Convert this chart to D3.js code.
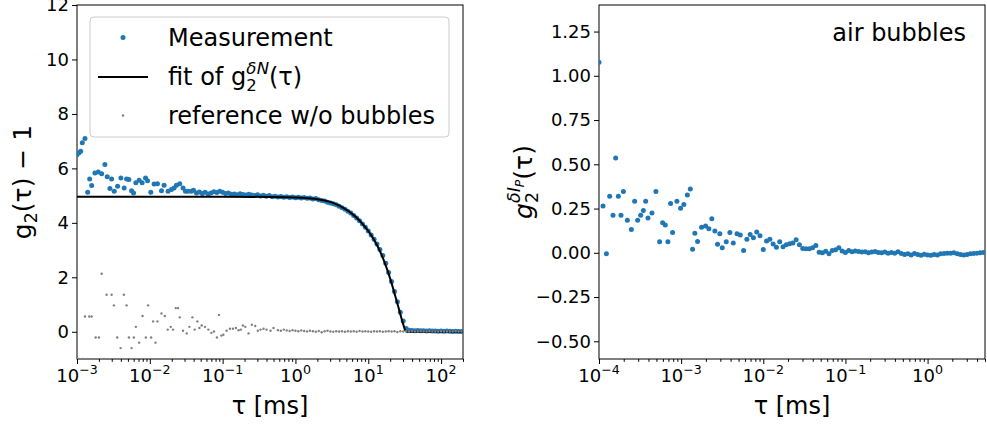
<!DOCTYPE html>
<html><head><meta charset="utf-8">
<script src="https://cdn.jsdelivr.net/npm/d3@7"></script>
<style>body{margin:0;background:#fff} svg text{font-family:"DejaVu Sans",sans-serif;fill:#000}</style>
</head><body><svg id="c" width="987" height="425"></svg>
<script>
// ---------- data ----------
// left panel: measurement (blue)
const measTau = [0.001,0.001065,0.001124,0.001182,0.001287,0.001401,0.001493,0.00159,0.001764,0.001958,
0.00218,0.002418,0.002601,0.002832,0.002988,0.003243,0.003609,0.004005,0.004446,0.004795,
0.005157,0.005615,0.00598,0.00643,0.007135,0.007846,0.008733,0.0093,0.01032,0.01145,
0.01274,0.01446,0.0157,0.01781,0.01983,0.02153,0.02322,0.02576,0.02858,0.03083,0.03346,0.03726,
0.0398,0.0437,0.0479,0.0525,0.0575,0.0631,0.0692,0.0759,0.0832,0.0912,
0.1,0.1096,0.1202,0.1318,0.1445,0.1585,0.1738,0.1905,0.2089,0.2291,
0.2512,0.2754,0.302,0.3311,0.3631,0.3981,0.4365,0.4786,0.5248,0.5754,
0.631,0.6918,0.7586,0.8318,0.912,1.0,1.096,1.202,1.318,1.445,
1.585,1.738,1.905,2.089,2.291,2.512,2.754,3.02,3.311,3.631,
3.981,4.365,4.786,5.248,5.754,6.31,6.918,7.586,8.318,9.12,
10.0,10.96,12.02,13.18,14.45,15.85,17.38,19.05,20.89,22.91,
25.12,27.54,30.2,33.11,36.31,39.81,43.65,47.86,52.48,57.54,
63.1,69.18,75.86,83.18,91.2,100,109.6,120.2,131.8,144.5,158.5,173.8,190.5];
const measVal = [6.5,6.57,6.63,6.94,7.1,5.12,5.61,5.37,5.83,5.87,
5.8,6.14,5.69,5.26,5.61,5.16,5.34,5.65,5.28,5.61,
5.59,5.18,5.1,5.47,5.56,5.47,5.65,5.55,5.12,5.43,
5.44,5.18,5.38,5.16,5.22,5.28,5.38,5.44,5.28,5.16,5.16,5.16,
5.20,5.10,5.13,5.08,5.12,5.06,5.10,5.14,5.11,5.16,
5.12,5.08,5.10,5.05,5.06,5.03,5.07,5.04,5.02,5.05,
5.02,5.00,5.03,4.99,5.01,4.98,5.00,4.96,4.98,4.95,
4.97,4.94,4.96,4.93,4.95,4.92,4.94,4.91,4.93,4.90,
4.91,4.88,4.89,4.85,4.82,4.80,4.76,4.73,4.70,4.66,
4.61,4.55,4.50,4.43,4.36,4.27,4.18,4.08,3.96,3.84,
3.70,3.55,3.40,3.22,3.02,2.80,2.52,2.18,1.85,1.48,
1.10,0.72,0.40,0.12,0.06,0.05,0.04,0.05,0.04,0.04,
0.03,0.04,0.03,0.03,0.02,0.03,0.02,0.03,0.02,0.01,0.02,0.01,0.01];

// left panel: fit of g2^dN (black line)
const fitTau = [0.001,0.1,0.5,1,1.5,2,3,4,5,6,7,8,10,12,15,18,20,22,25,28,30,32,33.5,50,100,200];
const fitVal = [4.96,4.96,4.95,4.93,4.9,4.87,4.77,4.63,4.48,4.33,4.18,4.02,3.7,3.38,2.87,2.32,1.95,1.58,1.06,0.58,0.3,0.07,0,0,0,0];

// left panel: reference w/o bubbles (grey)
const refTau = [0.001,0.00106,0.00113,0.0012,0.001287,0.001474,0.00159,0.001804,0.002002,0.00218,
0.00234,0.002551,0.002988,0.003212,0.003564,0.003968,0.004403,0.004795,0.005157,0.005615,
0.006036,0.00643,0.007135,0.007943,0.008815,0.009478,0.01042,0.0111,0.01197,0.01274,
0.01446,0.01605,0.01764,0.0194,0.02085,0.02271,0.02441,0.02576,0.02858,0.03212,
0.03499,0.03845,0.04133,0.045,0.04795,0.05157,0.05722,0.06369,0.07002,0.07601,
0.08353,0.08898,0.09598,0.1022,0.1134,0.1259,0.1384,0.1521,0.1657,0.1781,
0.1897,0.2047,0.2271,0.252,0.2805,0.3045,0.3315,0.3644,0.4006,0.4545,0.4995,
0.5754,0.631,0.6918,0.7586,0.8318,0.912,1.0,1.096,1.202,1.318,
1.445,1.585,1.738,1.905,2.089,2.291,2.512,2.754,3.02,3.311,
3.631,3.981,4.365,4.786,5.248,5.754,6.31,6.918,7.586,8.318,
9.12,10.0,10.96,12.02,13.18,14.45,15.85,17.38,19.05,20.89,
22.91,25.12,27.54,30.2,33.11,36.31,39.81,43.65,47.86,52.48,
57.54,63.1,69.18,75.86,83.18,91.2,100,109.6,120.2,131.8,144.5,158.5,173.8,190.5];
const refVal = [-1.0,-1.0,-1.02,-1.0,0.56,0.56,0.56,-0.21,-0.21,2.13,
-1.0,1.36,1.36,0.97,-0.21,-0.6,1.36,0.97,-0.21,-0.6,
-0.21,0.18,-0.4,0.58,-0.21,0.97,-0.21,0.38,-0.4,0.38,
0.67,0.58,0.08,0.18,0.08,0.87,0.87,0.53,0.04,-0.06,
0.18,0.53,0.08,0.38,0.14,0.23,0.18,0.08,-0.04,0.01,
-0.21,0.62,-0.14,-0.11,0.04,0.11,0.11,0.14,0.06,0.08,
0.23,0.18,-0.06,0.26,0.21,0.04,0.08,0.11,0.08,0.04,0.14,
0.06,0.04,0.08,0.05,0.03,0.06,0.04,0.02,0.05,0.03,
0.01,0.04,0.02,0.0,0.03,-0.02,0.02,0.04,0.01,0.0,
0.02,0.01,0.02,0.0,0.02,0.01,0.02,0.0,0.03,0.01,
0.02,0.01,0.0,0.02,0.01,0.02,0.0,0.01,0.02,0.01,
0.02,-0.01,0.02,0.01,0.02,0.01,0.02,0.01,0.01,0.02,
0.01,0.01,0.02,0.01,0.01,0.01,0.02,0.01,0.01,0.01,0.01,0.02,0.01,0.01];

// right panel: air bubbles g2^dIP (blue)
const bubTau = [0.0001,0.0001119,0.000123,0.0001349,0.000148,0.0001595,0.0001721,0.0001851,0.0001981,0.0002215,
0.0002477,0.0002716,0.0002955,0.0003216,0.0003467,0.0003699,0.0003947,0.000441,0.000493,0.000547,
0.000595,0.000641,0.00069,0.000744,0.000787,0.000888,0.000984,0.001079,0.001189,0.001292,
0.001377,0.001469,0.001585,0.001774,0.001983,0.002175,0.002364,0.002573,0.002773,0.002958,
0.003163,0.00354,0.00392,0.00431,
0.004786,0.005248,0.005754,0.00631,0.006918,0.007586,0.008318,0.00912,0.01,0.01096,
0.01202,0.01318,0.01445,0.01585,0.01738,0.01905,0.02089,0.02291,0.02512,0.02754,
0.0302,0.03311,0.03631,0.03981,0.04365,0.04786,0.05248,0.05754,0.0631,0.06918,
0.07586,0.08318,0.0912,0.1,0.1096,0.1202,0.1318,0.1445,0.1585,0.1738,
0.1905,0.2089,0.2291,0.2512,0.2754,0.302,0.3311,0.3631,0.3981,0.4365,
0.4786,0.5248,0.5754,0.631,0.6918,0.7586,0.8318,0.912,1.0,1.096,
1.202,1.318,1.445,1.585,1.738,1.905,2.089,2.291,2.512,2.754,
3.02,3.311,3.631,3.981,4.365,4.786];
const bubVal = [1.077,0.265,-0.006,0.32,0.212,0.536,0.32,0.212,0.347,0.184,
0.131,0.291,0.184,0.212,0.239,0.291,0.197,0.225,0.347,0.063,
0.17,0.157,0.063,0.278,0.115,0.291,0.252,0.273,0.326,0.36,
0.02,0.11,0.064,0.145,0.151,0.136,0.193,0.123,0.049,0.108,
0.028,0.063,0.115,0.055,
0.108,0.10,0.013,0.077,0.104,0.085,0.117,0.097,0.019,0.066,
0.076,0.05,0.032,0.063,0.034,0.045,0.051,0.055,0.074,0.045,
0.025,0.023,0.023,0.028,0.041,0.003,0.0,0.009,-0.006,0.013,
0.017,0.028,0.01,0.002,0.013,0.006,0.01,0.008,0.004,0.006,
0.0,0.005,0.008,0.002,0.0,0.004,-0.003,0.002,-0.002,0.006,
-0.004,-0.01,-0.006,-0.012,-0.004,-0.01,-0.014,-0.008,-0.012,-0.014,
-0.01,-0.012,-0.006,-0.004,-0.002,-0.003,0.0,-0.005,-0.01,-0.012,
-0.01,-0.006,-0.004,-0.002,0.0,0.002];

// ticks and texts
const leftYTicks = [0,2,4,6,8,10,12];
const rightYTicks = [-0.5,-0.25,0,0.25,0.5,0.75,1.0,1.25];
const leftXExp = [-3,-2,-1,0,1,2];
const rightXExp = [-4,-3,-2,-1,0];
const legendNames = ["Measurement","fit of ","reference w/o bubbles"];
const annotationText = "air bubbles";
const xLabelText = "τ [ms]";

// ---------- drawing ----------
const svg = d3.select("#c");
const BLUE = "#1f77b4", GREY = "#808080";
const TOP = 5, BOT = 359;
const L = {x0:77, x1:463};
const R = {x0:599, x1:985};
const TICKFS = 18;

const xL = d3.scaleLog().domain([1e-3, 200]).range([L.x0, L.x1]);
const yL = d3.scaleLinear().domain([-1, 12]).range([BOT, TOP]);
const xR = d3.scaleLog().domain([1e-4, 5]).range([R.x0, R.x1]);
const yR = d3.scaleLinear().domain([-0.6, 1.4]).range([BOT, TOP]);

function richText(parent, x, y, items, anchor, rotate) {
  const g = parent.append("g");
  const inner = g.append("g");
  let cx = 0, gs = 0, ge = 0;
  items.forEach(it => {
    const start = it.stack ? gs : cx;
    const t = inner.append("text").attr("x", start).attr("y", it.dy || 0)
      .attr("font-size", it.size).text(it.t);
    if (it.italic) t.attr("font-style", "italic");
    const w = t.node().getComputedTextLength();
    if (!it.stack) { gs = start; ge = start + w; } else { ge = Math.max(ge, start + w); }
    cx = ge;
  });
  const ox = anchor === "middle" ? -cx / 2 : anchor === "end" ? -cx : 0;
  inner.attr("transform", `translate(${ox},0)`);
  g.attr("transform", `translate(${x},${y})` + (rotate ? ` rotate(${rotate})` : ""));
  return g;
}

function minorVals(lo, hi) {
  const out = [];
  for (let k = Math.floor(Math.log10(lo)); k <= Math.ceil(Math.log10(hi)); k++)
    for (let d = 2; d <= 9; d++) { const v = d * Math.pow(10, k); if (v >= lo && v <= hi) out.push(v); }
  return out;
}

function panel(P, xs, ys, id, yTicks, yFmt, xExp) {
  const g = svg.append("g");
  svg.append("clipPath").attr("id", id).append("rect")
    .attr("x", P.x0).attr("y", TOP).attr("width", P.x1 - P.x0).attr("height", BOT - TOP);
  const ax = g.append("g").attr("transform", `translate(0,${BOT})`)
    .call(d3.axisBottom(xs).tickValues(xExp.map(e => Math.pow(10, e))).tickFormat("").tickSizeOuter(0).tickSizeInner(5));
  const axm = g.append("g").attr("transform", `translate(0,${BOT})`)
    .call(d3.axisBottom(xs).tickValues(minorVals(xs.domain()[0], xs.domain()[1])).tickFormat("").tickSizeOuter(0).tickSizeInner(2.8));
  const ay = g.append("g").attr("transform", `translate(${P.x0},0)`)
    .call(d3.axisLeft(ys).tickValues(yTicks).tickFormat("").tickSizeOuter(0).tickSizeInner(5));
  [ax, axm, ay].forEach(a => { a.select(".domain").remove(); a.selectAll("line").attr("stroke", "#000").attr("stroke-width", 1); });
  xExp.forEach(e => {
    richText(g, xs(Math.pow(10, e)), 382, [
      {t: "10", size: TICKFS},
      {t: (e < 0 ? "\u2212" : "") + Math.abs(e), size: 12.6, dy: -8}
    ], "middle");
  });
  yTicks.forEach(v => {
    g.append("text").attr("x", P.x0 - 8).attr("y", ys(v)).attr("dy", "0.35em")
      .attr("text-anchor", "end").attr("font-size", TICKFS).text(yFmt(v));
  });
  g.append("rect").attr("x", P.x0).attr("y", TOP).attr("width", P.x1 - P.x0).attr("height", BOT - TOP)
    .attr("fill", "none").attr("stroke", "#000").attr("stroke-width", 1);
  return g;
}

const gl = panel(L, xL, yL, "clipL", leftYTicks, d => String(d), leftXExp);
const gr = panel(R, xR, yR, "clipR", rightYTicks, d => d3.format(".2f")(d).replace("-", "\u2212"), rightXExp);

// left data
const dl = svg.append("g").attr("clip-path", "url(#clipL)");
dl.selectAll("circle.m").data(measTau).join("circle")
  .attr("cx", (d) => xL(d)).attr("cy", (d, i) => yL(measVal[i])).attr("r", 2.5).attr("fill", BLUE);
dl.append("path").datum(fitTau.map((t, i) => [t, fitVal[i]]))
  .attr("d", d3.line().x(d => xL(d[0])).y(d => yL(d[1])).curve(d3.curveMonotoneX))
  .attr("fill", "none").attr("stroke", "#000").attr("stroke-width", 2);
dl.selectAll("circle.r").data(refTau).join("circle").attr("class", "r")
  .attr("cx", d => xL(d)).attr("cy", (d, i) => yL(refVal[i])).attr("r", 1.2).attr("fill", GREY);

// right data
const dr = svg.append("g").attr("clip-path", "url(#clipR)");
dr.selectAll("circle").data(bubTau).join("circle")
  .attr("cx", d => xR(d)).attr("cy", (d, i) => yR(bubVal[i])).attr("r", 2.5).attr("fill", BLUE);

// legend
const lg = svg.append("g");
lg.append("rect").attr("x", 90).attr("y", 17).attr("width", 359).attr("height", 120).attr("rx", 4)
  .attr("fill", "#fff").attr("fill-opacity", 0.8).attr("stroke", "#cccccc").attr("stroke-width", 1);
lg.append("circle").attr("cx", 123).attr("cy", 37.5).attr("r", 2.5).attr("fill", BLUE);
lg.append("line").attr("x1", 98).attr("x2", 148).attr("y1", 77).attr("y2", 77).attr("stroke", "#000").attr("stroke-width", 2);
lg.append("circle").attr("cx", 123).attr("cy", 115.5).attr("r", 1.2).attr("fill", GREY);
lg.append("text").attr("x", 168).attr("y", 46).attr("font-size", 24).text(legendNames[0]);
richText(lg, 168, 85, [
  {t: legendNames[1] + "g", size: 24},
  {t: "2", size: 16.5, dy: 6},
  {t: "\u03B4", size: 16.5, dy: -11, stack: true, italic: true},
  {t: "N", size: 16.5, dy: -11, italic: true},
  {t: "(\u03C4)", size: 24}
], "start");
lg.append("text").attr("x", 168).attr("y", 124).attr("font-size", 24).text(legendNames[2]);

// annotation
svg.append("text").attr("x", 966).attr("y", 41).attr("text-anchor", "end").attr("font-size", 24).text(annotationText);

// axis labels
svg.append("text").attr("x", (L.x0 + L.x1) / 2).attr("y", 414).attr("text-anchor", "middle").attr("font-size", 24).text(xLabelText);
svg.append("text").attr("x", (R.x0 + R.x1) / 2).attr("y", 414).attr("text-anchor", "middle").attr("font-size", 24).text(xLabelText);

richText(svg, 31, (TOP + BOT) / 2, [
  {t: "g", size: 25},
  {t: "2", size: 17.5, dy: 6},
  {t: "(\u03C4) \u2212 1", size: 25}
], "middle", -90);

richText(svg, 532, (TOP + BOT) / 2, [
  {t: "g", size: 25, italic: true},
  {t: "2", size: 17.5, dy: 6},
  {t: "\u03B4I", size: 17.5, dy: -12, stack: true, italic: true},
  {t: "P", size: 12.5, dy: -8, italic: true},
  {t: "(\u03C4)", size: 25}
], "middle", -90);
</script></body></html>
